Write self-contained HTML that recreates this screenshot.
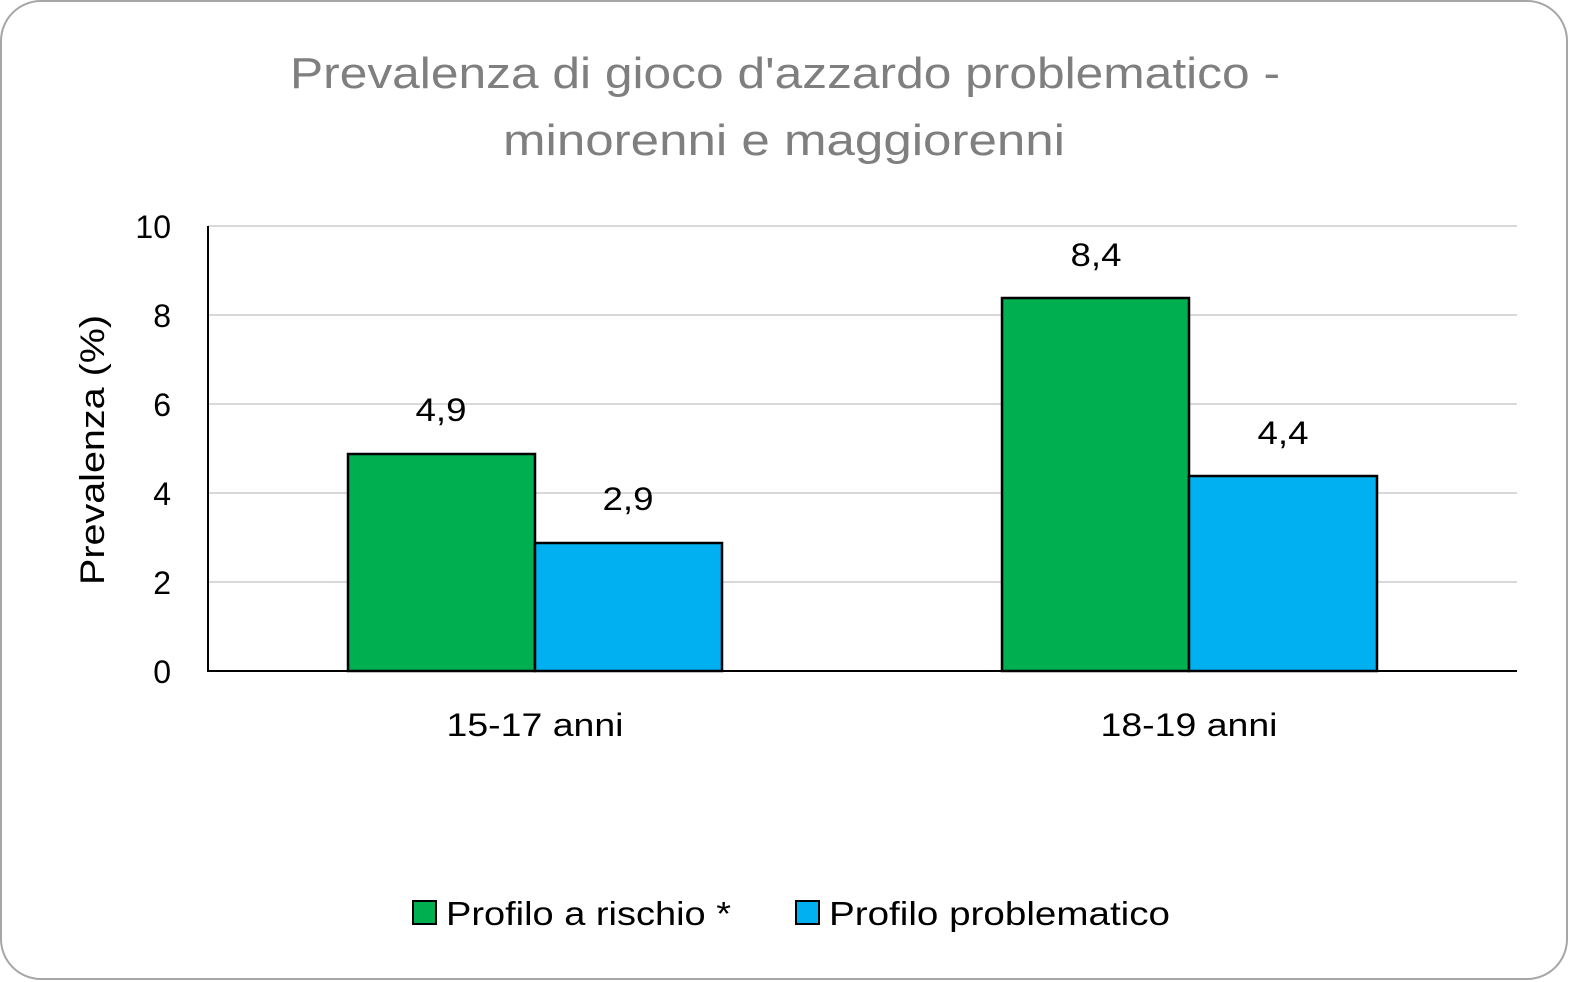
<!DOCTYPE html>
<html><head><meta charset="utf-8"><style>
body{margin:0;background:#fff;}
svg{display:block;font-family:"Liberation Sans",sans-serif;}
</style></head><body>
<svg width="1570" height="982" xmlns="http://www.w3.org/2000/svg">
<rect x="1" y="1" width="1566" height="978" rx="40" fill="#fff" stroke="#a6a6a6" stroke-width="2"/>
<g fill="#7f7f7f" font-size="44">
<text x="290" y="88" textLength="990" lengthAdjust="spacingAndGlyphs">Prevalenza di gioco d'azzardo problematico -</text>
<text x="503" y="155" textLength="562" lengthAdjust="spacingAndGlyphs">minorenni e maggiorenni</text>
</g>
<g stroke="#d9d9d9" stroke-width="2">
<line x1="208" x2="1517" y1="226" y2="226"/>
<line x1="208" x2="1517" y1="315" y2="315"/>
<line x1="208" x2="1517" y1="404" y2="404"/>
<line x1="208" x2="1517" y1="493" y2="493"/>
<line x1="208" x2="1517" y1="582" y2="582"/>
</g>
<g stroke="#000" stroke-width="2.5">
<rect x="348" y="454" width="187" height="217" fill="#00b050"/>
<rect x="535" y="543" width="187" height="128" fill="#00b0f0"/>
<rect x="1002" y="298" width="187" height="373" fill="#00b050"/>
<rect x="1189" y="476" width="188" height="195" fill="#00b0f0"/>
</g>
<line x1="208" x2="208" y1="226" y2="672" stroke="#000" stroke-width="2"/>
<line x1="208" x2="1517" y1="671" y2="671" stroke="#000" stroke-width="2"/>
<g font-size="32" text-anchor="end" fill="#000">
<text x="171" y="238">10</text><text x="171" y="327">8</text><text x="171" y="416">6</text>
<text x="171" y="505">4</text><text x="171" y="594">2</text><text x="171" y="683">0</text>
</g>
<g font-size="32" text-anchor="middle" fill="#000">
<text x="441" y="421" textLength="51" lengthAdjust="spacingAndGlyphs">4,9</text><text x="628" y="510" textLength="51" lengthAdjust="spacingAndGlyphs">2,9</text>
<text x="1096" y="266" textLength="51" lengthAdjust="spacingAndGlyphs">8,4</text><text x="1283" y="444" textLength="51" lengthAdjust="spacingAndGlyphs">4,4</text>
<text x="535" y="736" textLength="177" lengthAdjust="spacingAndGlyphs">15-17 anni</text><text x="1189" y="736" textLength="177" lengthAdjust="spacingAndGlyphs">18-19 anni</text>
</g>
<text transform="translate(104,450) rotate(-90)" font-size="34" text-anchor="middle" textLength="270" lengthAdjust="spacingAndGlyphs">Prevalenza (%)</text>
<rect x="413" y="901" width="23" height="23" fill="#00b050" stroke="#000" stroke-width="2"/>
<text x="446" y="925" font-size="33" textLength="285" lengthAdjust="spacingAndGlyphs">Profilo a rischio *</text>
<rect x="796" y="901" width="23" height="23" fill="#00b0f0" stroke="#000" stroke-width="2"/>
<text x="829" y="925" font-size="33" textLength="341" lengthAdjust="spacingAndGlyphs">Profilo problematico</text>
</svg>
</body></html>
